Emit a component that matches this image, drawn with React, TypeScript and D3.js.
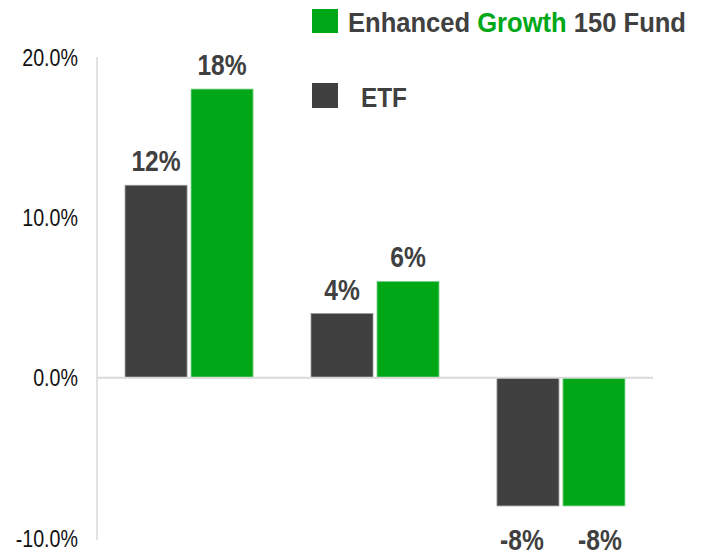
import React from "react";
import * as d3 from "d3";

const categories = ["A", "B", "C"];
const etfValues = [12, 4, -8];
const fundValues = [18, 6, -8];
const yTicks = [-10, 0, 10, 20];
const seriesNames = ["ETF", "Enhanced Growth 150 Fund"];

const W = 704;
const H = 555;
const DARK = "#404040";
const GREEN = "#00a818";
const NARROW = 0.82;

export default function App() {
  const x = d3.scaleBand<string>().domain(categories).range([97, 653]).paddingInner(0.31).paddingOuter(0.15);
  const y = d3.scaleLinear().domain([-10, 20]).range([538, 57]);
  const bw = 62;
  const gap = 4;
  const series = [
    { name: seriesNames[0], values: etfValues, color: DARK, off: -gap / 2 - bw, negShift: -6 },
    { name: seriesNames[1], values: fundValues, color: GREEN, off: gap / 2, negShift: 6 },
  ];
  return (
    <svg width={W} height={H} style={{ position: "absolute", left: 0, top: 0 }} fontFamily="'Liberation Sans', Arial, sans-serif">
      <line x1={97} x2={97} y1={57} y2={540} stroke="#d9d9d9" strokeWidth={1.5} />
      {yTicks.map((t) => (
        <text key={t} transform={`translate(78,${y(t) + 8.5}) scale(${NARROW},1)`} textAnchor="end" fontSize={24} fill="#111">
          {t.toFixed(1)}%
        </text>
      ))}
      {categories.map((c, i) => {
        const cx = (x(c) as number) + x.bandwidth() / 2;
        return series.map((s) => {
          const v = s.values[i];
          const x0 = cx + s.off;
          const top = Math.min(y(v), y(0));
          const h = Math.abs(y(v) - y(0));
          const ly = v >= 0 ? y(v) - 14 : 550;
          const lx = x0 + bw / 2 + (v < 0 ? s.negShift : 0);
          return (
            <g key={c + s.name}>
              <rect x={x0} y={top} width={bw} height={h} fill={s.color} stroke={s.color === DARK ? "#9a9a9a" : "#7fd38b"} strokeWidth={0.8} />
              <text transform={`translate(${lx},${ly}) scale(${NARROW},1)`} textAnchor="middle" fontSize={30} fontWeight="bold" fill={DARK}>
                {v}%
              </text>
            </g>
          );
        });
      })}
      <line x1={97} x2={653} y1={y(0)} y2={y(0)} stroke="#d9d9d9" strokeWidth={2} />
      <rect x={312} y={9} width={26} height={24} fill={GREEN} />
      <text x={348} y={32} fontSize={28} fontWeight="bold" fill={DARK} textLength={338} lengthAdjust="spacingAndGlyphs">
        Enhanced <tspan fill={GREEN}>Growth</tspan> 150 Fund
      </text>
      <rect x={312} y={83} width={26} height={25} fill={DARK} />
      <text x={361} y={107} fontSize={28} fontWeight="bold" fill={DARK} textLength={46} lengthAdjust="spacingAndGlyphs">
        {seriesNames[0]}
      </text>
    </svg>
  );
}
